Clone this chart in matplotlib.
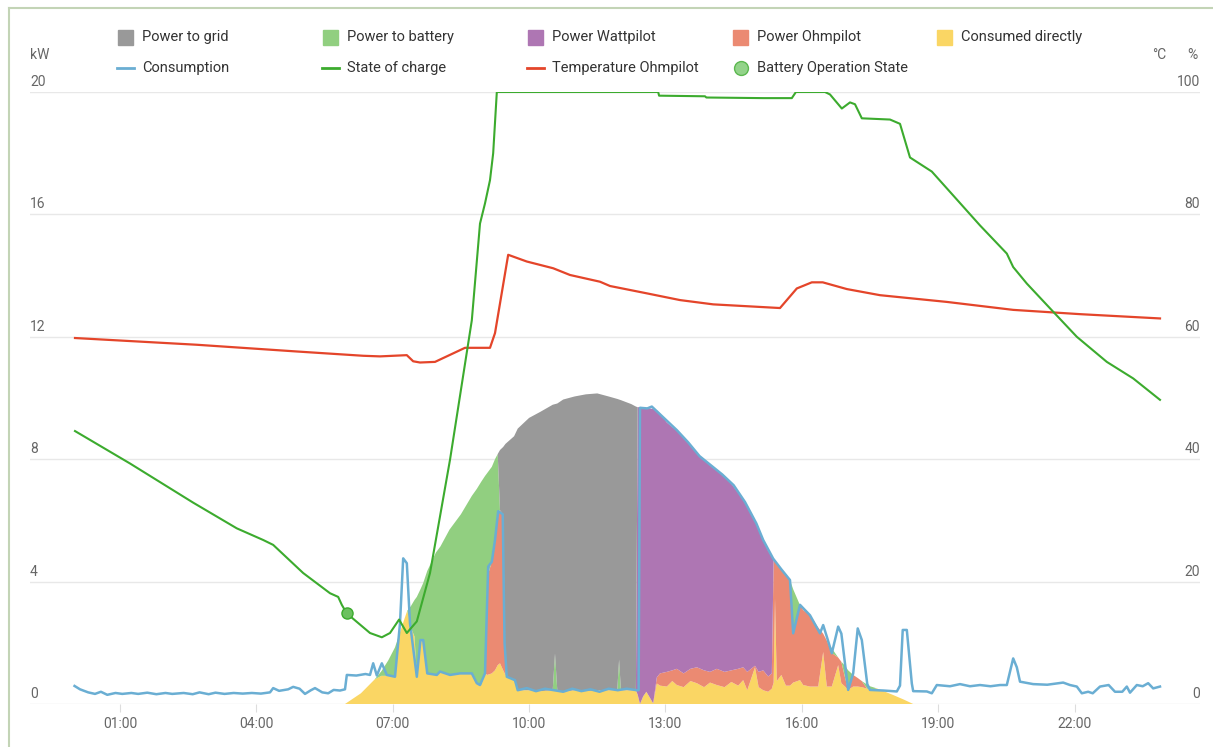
import matplotlib.pyplot as plt
from matplotlib.patches import Rectangle
from matplotlib.lines import Line2D

plt.rcParams["font.family"] = ["Roboto", "DejaVu Sans"]

# ── Daten (Stunden des Tages, kW bzw. %/°C) ─────────────────────────────────

# Energiefluss (gestapelt), gemeinsames Zeitraster
t_flow = [5.95, 6.30, 6.60, 6.75, 6.90, 7.05, 7.15, 7.25, 7.32, 7.40,
          7.48, 7.53, 7.61, 7.67, 7.76, 7.95, 8.05, 8.25, 8.50, 8.74,
          8.85, 8.95, 9.03, 9.08, 9.18, 9.25, 9.31, 9.36, 9.43, 9.48,
          9.67, 9.75, 10.00, 10.25, 10.52, 10.57, 10.62, 10.75, 11.00, 11.25,
          11.50, 11.75, 11.94, 11.98, 12.02, 12.25, 12.35, 12.39, 12.44, 12.51,
          12.58, 12.66, 12.73, 12.81, 12.88, 13.03, 13.15, 13.25, 13.40, 13.55,
          13.69, 13.85, 13.98, 14.13, 14.30, 14.45, 14.60, 14.71, 14.80, 14.97,
          15.05, 15.15, 15.26, 15.34, 15.38, 15.41, 15.45, 15.55, 15.65, 15.74,
          15.81, 15.96, 16.03, 16.18, 16.36, 16.47, 16.55, 16.66, 16.80, 16.87,
          16.95, 17.02, 17.13, 17.23, 17.32, 17.44, 17.50, 17.65, 18.00, 18.25,
          18.45]

consumed_directly = [0, 0.35, 0.80, 0.92, 0.92, 0.90, 2.30, 2.75, 3.05, 2.50,
                     2.20, 0.90, 2.05, 2.05, 1.00, 0.95, 1.05, 0.95, 1.00, 1.00,
                     0.68, 0.62, 1.00, 0.95, 1.00, 1.10, 1.27, 1.33, 1.10, 0.95,
                     0.75, 0.45, 0.45, 0.42, 0.45, 0.45, 0.45, 0.40, 0.45, 0.42,
                     0.45, 0.45, 0.45, 0.45, 0.45, 0.45, 0.45, 0.30, 0.00, 0.25,
                     0.40, 0.20, 0.02, 0.67, 0.60, 0.57, 0.75, 0.62, 0.55, 0.75,
                     0.68, 0.55, 0.70, 0.62, 0.55, 0.72, 0.60, 0.78, 0.45, 1.20,
                     0.55, 0.45, 0.40, 0.50, 0.70, 3.45, 0.75, 0.95, 0.60, 0.60,
                     0.70, 0.78, 0.62, 0.57, 0.57, 1.70, 0.57, 0.57, 1.27, 0.68,
                     0.57, 0.46, 0.57, 0.57, 0.55, 0.50, 0.46, 0.51, 0.30, 0.14,
                     0]

power_ohmpilot = [0, 0, 0, 0, 0, 0, 0, 0, 0, 0,
                  0, 0, 0, 0, 0, 0, 0, 0, 0, 0,
                  0, 0, 0, 3.20, 3.65, 4.25, 5.00, 5.00, 5.10, 0,
                  0, 0, 0, 0, 0, 0, 0, 0, 0, 0,
                  0, 0, 0, 0, 0, 0, 0, 0, 0, 0,
                  0, 0, 0, 0.20, 0.40, 0.48, 0.35, 0.53, 0.45, 0.40,
                  0.52, 0.55, 0.35, 0.53, 0.50, 0.38, 0.55, 0.42, 0.60, 0.05,
                  0.50, 0.65, 0.50, 0.50, 4.00, 1.20, 3.85, 3.45, 3.65, 3.45,
                  1.60, 2.45, 2.45, 2.33, 1.93, 0.60, 1.50, 1.10, 0.25, 0.70,
                  0.30, 0, 0.38, 0.28, 0.20, 0, 0, 0, 0, 0,
                  0]

power_wattpilot = [0, 0, 0, 0, 0, 0, 0, 0, 0, 0,
                   0, 0, 0, 0, 0, 0, 0, 0, 0, 0,
                   0, 0, 0, 0, 0, 0, 0, 0, 0, 0,
                   0, 0, 0, 0, 0, 0, 0, 0, 0, 0,
                   0, 0, 0, 0, 0, 0, 0, 9.40, 9.70, 9.43,
                   9.27, 9.46, 9.62, 8.73, 8.50, 8.15, 7.95, 7.80, 7.70, 7.30,
                   7.00, 6.90, 6.75, 6.50, 6.40, 6.10, 5.75, 5.50, 5.45, 4.75,
                   4.65, 4.26, 4.10, 3.80, 0, 0, 0, 0, 0, 0,
                   0, 0, 0, 0, 0, 0, 0, 0, 0, 0,
                   0, 0, 0, 0, 0, 0, 0, 0, 0, 0,
                   0]

power_battery = [0, 0, 0, 0.15, 0.50, 0.95, 0, 0, 0, 0.70,
                 1.20, 2.60, 1.70, 1.90, 3.35, 4.00, 4.10, 4.75, 5.20, 5.80,
                 6.35, 6.65, 6.45, 3.40, 3.10, 2.65, 1.90, 0, 0, 0,
                 0, 0, 0, 0, 0, 1.20, 0, 0, 0, 0,
                 0, 0, 0, 1.00, 0, 0, 0, 0, 0, 0,
                 0, 0, 0, 0, 0, 0, 0, 0, 0, 0,
                 0, 0, 0, 0, 0, 0, 0, 0, 0, 0,
                 0, 0, 0, 0, 0, 0, 0, 0, 0, 0,
                 1.45, 0, 0, 0, 0, 0, 0, 0.15, 0, 0,
                 0.38, 0.64, 0, 0, 0, 0.13, 0.12, 0, 0, 0,
                 0]

power_grid = [0, 0, 0, 0, 0, 0, 0, 0, 0, 0,
              0, 0, 0, 0, 0, 0, 0, 0, 0, 0,
              0, 0, 0, 0, 0, 0, 0, 1.97, 2.20, 7.55,
              8.00, 8.55, 8.90, 9.13, 9.33, 8.15, 9.37, 9.55, 9.60, 9.70,
              9.70, 9.60, 9.52, 8.50, 9.48, 9.35, 9.27, 0, 0, 0,
              0, 0, 0, 0, 0, 0, 0, 0, 0, 0,
              0, 0, 0, 0, 0, 0, 0, 0, 0, 0,
              0, 0, 0, 0, 0, 0, 0, 0, 0, 0,
              0, 0, 0, 0, 0, 0, 0, 0, 0, 0,
              0, 0, 0, 0, 0, 0, 0, 0, 0, 0,
              0]

# Verbrauch (ganzer Tag)
t_cons = [0.00, 0.12, 0.30, 0.45, 0.58, 0.72, 0.90, 1.05, 1.25, 1.40,
          1.60, 1.80, 2.00, 2.15, 2.40, 2.60, 2.75, 2.95, 3.10, 3.30,
          3.50, 3.70, 3.90, 4.10, 4.30, 4.37, 4.50, 4.70, 4.81, 4.95,
          5.07, 5.20, 5.29, 5.45, 5.58, 5.70, 5.84, 5.95, 5.99, 6.20,
          6.40, 6.50, 6.57, 6.65, 6.76, 6.87, 7.05, 7.16, 7.23, 7.31,
          7.38, 7.53, 7.61, 7.67, 7.76, 7.97, 8.04, 8.26, 8.48, 8.74,
          8.85, 8.92, 9.03, 9.10, 9.18, 9.25, 9.32, 9.42, 9.46, 9.51,
          9.69, 9.75, 9.95, 10.15, 10.35, 10.55, 10.75, 10.95, 11.15, 11.35,
          11.55, 11.75, 11.95, 12.15, 12.37, 12.41, 12.44, 12.60, 12.70, 12.80,
          13.00, 13.25, 13.50, 13.75, 14.00, 14.25, 14.50, 14.75, 15.00, 15.15,
          15.37, 15.55, 15.74, 15.81, 15.96, 16.18, 16.40, 16.47, 16.55, 16.66,
          16.80, 16.87, 17.02, 17.13, 17.23, 17.32, 17.44, 17.50, 17.80, 18.09,
          18.16, 18.22, 18.31, 18.42, 18.45, 18.75, 18.86, 18.97, 19.26, 19.48,
          19.70, 19.92, 20.15, 20.36, 20.51, 20.65, 20.73, 20.80, 21.09, 21.40,
          21.75, 21.90, 22.05, 22.16, 22.30, 22.40, 22.56, 22.75, 22.89, 23.05,
          23.15, 23.22, 23.37, 23.50, 23.62, 23.73, 23.88]
consumption = [0.59, 0.48, 0.38, 0.33, 0.40, 0.30, 0.36, 0.33, 0.36, 0.33,
               0.37, 0.32, 0.36, 0.33, 0.36, 0.32, 0.38, 0.32, 0.37, 0.33,
               0.36, 0.34, 0.36, 0.34, 0.38, 0.52, 0.43, 0.48, 0.56, 0.50,
               0.33, 0.45, 0.52, 0.38, 0.35, 0.46, 0.44, 0.48, 0.95, 0.93,
               0.98, 0.95, 1.33, 0.93, 1.33, 0.95, 0.89, 2.64, 4.76, 4.60,
               2.64, 0.89, 2.09, 2.09, 1.00, 0.95, 1.06, 0.95, 1.00, 1.00,
               0.68, 0.62, 1.00, 4.49, 4.65, 5.36, 6.30, 6.20, 2.00, 0.89,
               0.78, 0.45, 0.52, 0.42, 0.50, 0.45, 0.40, 0.50, 0.42, 0.48,
               0.40, 0.50, 0.45, 0.50, 0.45, 0.45, 9.68, 9.66, 9.72, 9.58,
               9.30, 8.95, 8.55, 8.10, 7.80, 7.50, 7.15, 6.60, 5.90, 5.36,
               4.75, 4.40, 4.05, 2.31, 3.24, 2.90, 2.31, 2.58, 2.20, 1.66,
               2.53, 2.30, 0.46, 1.00, 2.47, 2.09, 0.65, 0.46, 0.44, 0.41,
               0.60, 2.42, 2.42, 0.67, 0.42, 0.41, 0.35, 0.62, 0.58, 0.65,
               0.58, 0.62, 0.58, 0.62, 0.62, 1.49, 1.20, 0.73, 0.65, 0.63,
               0.70, 0.62, 0.57, 0.35, 0.40, 0.35, 0.57, 0.62, 0.40, 0.40,
               0.57, 0.37, 0.62, 0.58, 0.68, 0.51, 0.57]

# Ladezustand Batterie (%)
t_soc = [0.01, 1.22, 2.61, 3.57, 4.15, 4.37, 5.03, 5.62, 5.80, 5.88,
         5.99, 6.50, 6.76, 6.94, 7.14, 7.31, 7.53, 7.82, 8.26, 8.74,
         8.92, 9.03, 9.14, 9.21, 9.29, 12.84, 12.86, 13.87, 13.90, 15.15,
         15.78, 15.87, 16.51, 16.62, 16.88, 17.06, 17.17, 17.32, 17.94, 18.16,
         18.38, 18.86, 19.33, 19.92, 20.51, 20.65, 20.95, 21.53, 22.05, 22.71,
         23.29, 23.88]
soc = [44.6, 39.3, 32.9, 28.7, 26.8, 26.0, 21.4, 18.1, 17.5, 16.2,
       14.8, 11.6, 10.9, 11.6, 13.8, 11.6, 13.5, 21.4, 39.9, 62.7,
       78.5, 81.8, 85.6, 90.0, 100.0, 100.0, 99.4, 99.3, 99.1, 99.0,
       99.0, 100.0, 100.0, 99.6, 97.3, 98.3, 98.0, 95.7, 95.5, 94.8,
       89.3, 87.0, 83.1, 78.2, 73.6, 71.4, 68.7, 64.1, 60.0, 55.9,
       53.2, 49.7]

# Temperatur Ohmpilot (°C)
t_temp = [0.01, 2.69, 4.89, 6.35, 6.72, 7.31, 7.45, 7.60, 7.93, 8.59,
          9.14, 9.25, 9.54, 9.95, 10.53, 10.90, 11.56, 11.78, 12.59, 13.32,
          14.05, 15.52, 15.89, 16.22, 16.46, 16.99, 17.72, 19.19, 20.65, 22.12,
          23.88]
temp_ohmpilot = [59.8, 58.7, 57.6, 56.9, 56.8, 57.0, 56.0, 55.8, 55.9, 58.2,
                 58.2, 60.6, 73.4, 72.3, 71.2, 70.1, 69.0, 68.3, 67.1, 66.0,
                 65.3, 64.7, 67.9, 68.9, 68.9, 67.8, 66.8, 65.7, 64.4, 63.7,
                 63.0]

# Batterie-Betriebszustand (Marker)
t_batt_state = [5.99]
batt_state = [14.8]

x_ticks = [1, 4, 7, 10, 13, 16, 19, 22]
x_labels = ["01:00", "04:00", "07:00", "10:00", "13:00", "16:00", "19:00", "22:00"]
kw_ticks = [0, 4, 8, 12, 16, 20]
pct_ticks = [0, 20, 40, 60, 80, 100]

# ── Farben ───────────────────────────────────────────────────────────────────

GREY, BATT, PURPLE = "#999999", "#91cf80", "#ae76b3"
OHM, YELLOW = "#eb8a72", "#fad664"
BLUE, SOC_GREEN, RED = "#6aaed3", "#3cab2e", "#e4452a"
GRID, TICK = "#e8e8e8", "#666666"

W, H = 1213, 747
fx = lambda px: px / W
fy = lambda py: 1 - py / H

fig = plt.figure(figsize=(W / 100, H / 100), dpi=100)
fig.patch.set_facecolor("white")

# Rahmen links/oben
fig.add_artist(Line2D([fx(9), fx(9)], [fy(8), 0], color="#c3d4b6", linewidth=1.5))
fig.add_artist(Line2D([fx(9), 1], [fy(8), fy(8)], color="#c3d4b6", linewidth=1.5))

ax = fig.add_axes([fx(30), 43 / H, (1200 - 30) / W, 612 / H])
ax.set_xlim(-0.98, 24.76)
ax.set_ylim(0, 20)
for s in ax.spines.values():
    s.set_visible(False)

for v in kw_ticks:
    ax.axhline(v, color=GRID, linewidth=1, zorder=0)

ax.stackplot(t_flow, consumed_directly, power_ohmpilot, power_wattpilot,
             power_battery, power_grid,
             colors=[YELLOW, OHM, PURPLE, BATT, GREY], linewidth=0, zorder=1)
ax.plot(t_cons, consumption, color=BLUE, linewidth=1.8, zorder=3)

ax.set_xticks(x_ticks)
ax.set_xticklabels(x_labels, fontsize=10, color=TICK)
ax.tick_params(axis="x", length=6, color="#dddddd", pad=3)
ax.set_yticks([])

ax2 = ax.twinx()
ax2.set_ylim(0, 100)
ax2.set_yticks([])
for s in ax2.spines.values():
    s.set_visible(False)
ax2.plot(t_temp, temp_ohmpilot, color=RED, linewidth=1.6, zorder=4)
ax2.plot(t_soc, soc, color=SOC_GREEN, linewidth=1.5, zorder=4)
ax2.plot(t_batt_state, batt_state, "o", markersize=8, color="#6cc160",
         markeredgecolor=SOC_GREEN, markeredgewidth=1, zorder=5)

# Achsenbeschriftungen (über den Gitterlinien)
for v in kw_ticks:
    ax.text(0.0, v + 0.1, str(v), transform=ax.get_yaxis_transform(),
            ha="left", va="bottom", fontsize=10, color=TICK)
for v in pct_ticks:
    ax2.text(1.0, v + 0.5, str(v), transform=ax2.get_yaxis_transform(),
             ha="right", va="bottom", fontsize=10, color=TICK)
fig.text(fx(30), fy(55), "kW", ha="left", va="center", fontsize=10, color=TICK)
fig.text(fx(1166), fy(55), "°C", ha="right", va="center", fontsize=10, color=TICK)
fig.text(fx(1198), fy(55), "%", ha="right", va="center", fontsize=10, color=TICK)

# ── Legende ──────────────────────────────────────────────────────────────────
TXT = "#333333"
row1 = [("Power to grid", GREY), ("Power to battery", BATT), ("Power Wattpilot", PURPLE),
        ("Power Ohmpilot", OHM), ("Consumed directly", YELLOW)]
cols = [118, 323, 528, 733, 937]
for (label, c), x0 in zip(row1, cols):
    fig.add_artist(Rectangle((fx(x0), fy(45)), 15 / W, 15 / H, color=c,
                             transform=fig.transFigure))
    fig.text(fx(x0 + 24), fy(37), label, ha="left", va="center", fontsize=10.5, color=TXT)

row2 = [("Consumption", BLUE), ("State of charge", SOC_GREEN),
        ("Temperature Ohmpilot", RED)]
for (label, c), x0 in zip(row2, cols[:3]):
    fig.add_artist(Line2D([fx(x0 - 1), fx(x0 + 16)], [fy(68), fy(68)], color=c,
                          linewidth=2))
    fig.text(fx(x0 + 24), fy(68), label, ha="left", va="center", fontsize=10.5, color=TXT)
fig.add_artist(Line2D([fx(741)], [fy(68)], marker="o", markersize=10,
                      color="#93d38a", markeredgecolor="#5cb850", markeredgewidth=1))
fig.text(fx(757), fy(68), "Battery Operation State", ha="left", va="center",
         fontsize=10.5, color=TXT)

plt.savefig("out.png", dpi=100, facecolor="white")
